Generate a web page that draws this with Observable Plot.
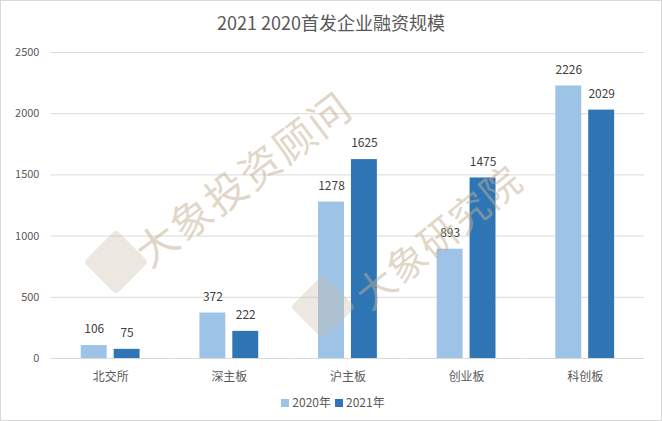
<!DOCTYPE html>
<html>
<head>
<meta charset="utf-8">
<script src="https://cdn.jsdelivr.net/npm/d3@7"></script>
<script src="https://cdn.jsdelivr.net/npm/@observablehq/plot@0.6"></script>
<style>
  html, body { margin: 0; padding: 0; background: #fff; }
  #wrap { position: relative; width: 660px; height: 419px; border: 1px solid #d9d9d9; overflow: hidden;
          font-family: "Noto Sans CJK SC", "Noto Sans", sans-serif; color: #595959; }
  #title { height: 40px; line-height: 42px; text-align: center; font-size: 18px; color: #595959; }
  #legend { position: absolute; top: 392px; left: 0; width: 660px; text-align: center; font-size: 12px; color: #595959; }
  #legend span.sw { display: inline-block; width: 8px; height: 8px; margin: 0 3px 0 4px; vertical-align: 0px; }
  .wm { position: absolute; font-family: "Noto Sans CJK SC", serif; color: rgba(195,175,145,0.5);
        white-space: nowrap; pointer-events: none; transform-origin: center; }
  .logo { position: absolute; width: 46px; height: 46px; background: rgba(200,185,165,0.35);
          transform: rotate(45deg); border-radius: 4px; pointer-events: none; }
</style>
</head>
<body>
<div id="wrap">
  <div id="title">2021 2020首发企业融资规模</div>
  <div id="chart"></div>
  <div id="legend"></div>
  <div class="wm" style="left:112px;top:146px;font-size:41px;letter-spacing:2px;transform:rotate(-37deg);">大象投资顾问</div>
  <div class="wm" style="left:336px;top:206px;font-size:39px;letter-spacing:1px;transform:rotate(-39deg);">大象研究院</div>
  <div class="logo" style="left:92px;top:238px;"></div>
  <div class="logo" style="left:299px;top:283px;"></div>
</div>
<script>
const categories = ["北交所", "深主板", "沪主板", "创业板", "科创板"];
const series = ["2020年", "2021年"];
const values2020 = [106, 372, 1278, 893, 2226];
const values2021 = [75, 222, 1625, 1475, 2029];
const yTicks = [0, 500, 1000, 1500, 2000, 2500];
const colors = ["#9DC3E6", "#2E75B6"];

const data = [];
categories.forEach((c, i) => {
  data.push({cat: c, s: series[0], v: values2020[i]});
  data.push({cat: c, s: series[1], v: values2021[i]});
});

const chart = Plot.plot({
  width: 662,
  height: 353,
  marginLeft: 48,
  marginRight: 15,
  marginTop: 11,
  marginBottom: 35,
  style: {fontFamily: "'Noto Sans CJK SC', 'Noto Sans', sans-serif", color: "#595959", background: "transparent"},
  fx: {domain: categories, padding: 0, label: null},
  x: {domain: series, paddingInner: 0.2, paddingOuter: 0.87, axis: null},
  y: {domain: [0, 2500], ticks: yTicks, label: null, grid: false},
  color: {domain: series, range: colors},
  marks: [
    Plot.ruleY(yTicks.filter(d => d > 0), {stroke: "#d9d9d9", strokeWidth: 1}),
    Plot.barY(data, {fx: "cat", x: "s", y: "v", fill: "s"}),
    Plot.ruleY([0], {stroke: "#d9d9d9", strokeWidth: 1}),
    Plot.text(data, {fx: "cat", x: "s", y: "v", text: d => String(d.v), dy: -16, fontSize: 12, fill: "#404040"}),
    Plot.axisY({ticks: yTicks, tickSize: 0, tickPadding: 12, fontSize: 11, label: null, tickFormat: d => String(d)}),
    Plot.axisFx({anchor: "bottom", tickSize: 0, tickPadding: 14, fontSize: 12, label: null})
  ]
});
document.getElementById("chart").appendChild(chart);

const legend = document.getElementById("legend");
series.forEach((s, i) => {
  const sw = document.createElement("span");
  sw.className = "sw";
  sw.style.background = colors[i];
  legend.appendChild(sw);
  legend.appendChild(document.createTextNode(s));
});
</script>
</body>
</html>
